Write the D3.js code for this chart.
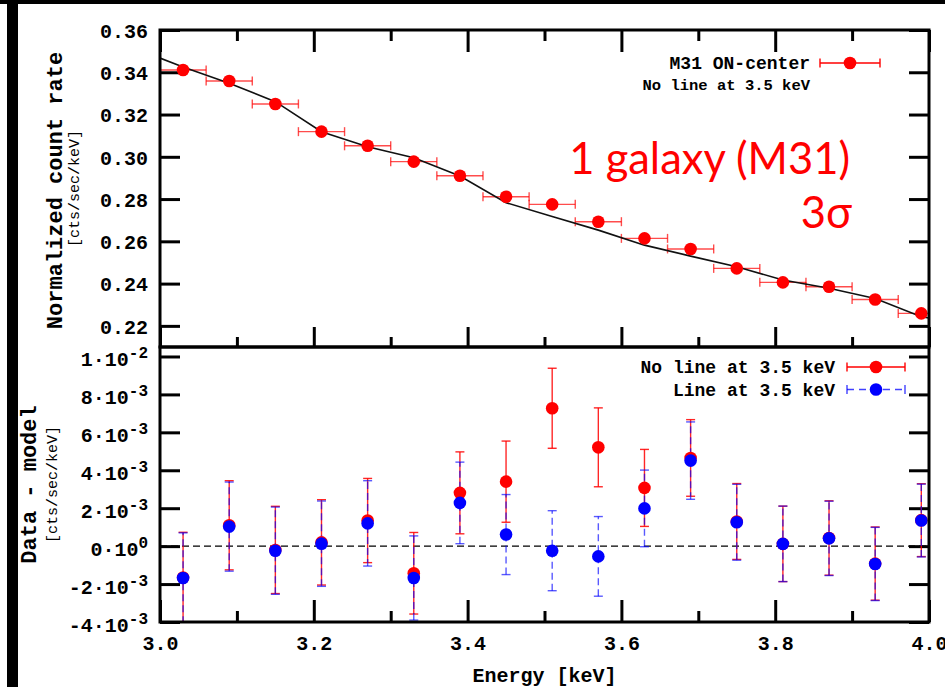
<!DOCTYPE html>
<html>
<head>
<meta charset="utf-8">
<script src="https://cdn.jsdelivr.net/npm/d3@7/dist/d3.min.js"></script>
<style>
  html, body { margin: 0; padding: 0; background: #fff; }
  svg { display: block; }
</style>
</head>
<body>
<svg id="chart" width="945" height="687"></svg>
<script>
// ---------------- DATA ----------------
const energy = [3.03, 3.09, 3.15, 3.21, 3.27, 3.33, 3.39, 3.45, 3.51, 3.57, 3.63, 3.69, 3.75, 3.81, 3.87, 3.93, 3.99];
const binHalfWidth = 0.03;
const rate = [0.3411, 0.3359, 0.3250, 0.3119, 0.3052, 0.2977, 0.2910, 0.2811, 0.2775, 0.2693, 0.2614, 0.2564, 0.2472, 0.2406, 0.2385, 0.2325, 0.2259];

const modelEnergy = [3.00, 3.03, 3.09, 3.15, 3.21, 3.27, 3.33, 3.39, 3.45, 3.51, 3.57, 3.63, 3.69, 3.75, 3.81, 3.87, 3.93, 3.99, 4.00];
const modelRate = [0.3467, 0.3425, 0.3348, 0.3261, 0.3119, 0.3048, 0.2996, 0.2909, 0.2783, 0.2717, 0.2653, 0.2582, 0.2530, 0.2480, 0.2417, 0.2378, 0.2330, 0.2243, 0.2237];

// residuals (cts/sec/keV)
const residNoLine = [-1.65e-3, 1.10e-3, -0.20e-3, 0.20e-3, 1.35e-3, -1.43e-3, 2.81e-3, 3.40e-3, 7.27e-3, 5.21e-3, 3.07e-3, 4.65e-3, 1.30e-3, 0.12e-3, 0.43e-3, -0.92e-3, 1.37e-3];
const errNoLine   = [2.38e-3, 2.35e-3, 2.30e-3, 2.25e-3, 2.22e-3, 2.15e-3, 2.16e-3, 2.14e-3, 2.11e-3, 2.08e-3, 2.03e-3, 2.02e-3, 2.00e-3, 1.99e-3, 1.96e-3, 1.93e-3, 1.92e-3];
const residLine   = [-1.68e-3, 1.03e-3, -0.24e-3, 0.13e-3, 1.20e-3, -1.68e-3, 2.28e-3, 0.61e-3, -0.24e-3, -0.54e-3, 1.99e-3, 4.51e-3, 1.26e-3, 0.12e-3, 0.41e-3, -0.94e-3, 1.35e-3];
const errLine     = [2.38e-3, 2.35e-3, 2.30e-3, 2.25e-3, 2.25e-3, 2.22e-3, 2.15e-3, 2.11e-3, 2.11e-3, 2.10e-3, 2.02e-3, 2.04e-3, 2.00e-3, 1.99e-3, 1.96e-3, 1.93e-3, 1.92e-3];

// ticks
const xMajorTicks = [3.0, 3.2, 3.4, 3.6, 3.8, 4.0];
const xMinorTicks = [3.1, 3.3, 3.5, 3.7, 3.9];
const xTickLabels = ["3.0", "3.2", "3.4", "3.6", "3.8", "4.0"];
const topYTicks = [0.22, 0.24, 0.26, 0.28, 0.30, 0.32, 0.34, 0.36];
const topYTickLabels = ["0.22", "0.24", "0.26", "0.28", "0.30", "0.32", "0.34", "0.36"];
const botYTicks = [-4e-3, -2e-3, 0, 2e-3, 4e-3, 6e-3, 8e-3, 1e-2];
const botYMantissa = ["-4", "-2", "0", "2", "4", "6", "8", "1"];
const botYExponent = ["-3", "-3", "0", "-3", "-3", "-3", "-3", "-2"];

// ---------------- LAYOUT ----------------
const L = 160, R = 929, T1 = 30, B1 = 347, T2 = 347, B2 = 622;
const mono = "'Liberation Mono', 'DejaVu Sans Mono', monospace";
const RED = "#ff0000", BLUE = "#0000ff";

const svg = d3.select("#chart");

// image border decorations
svg.append("rect").attr("x", 0).attr("y", 0).attr("width", 945).attr("height", 4).attr("fill", "#000");
svg.append("rect").attr("x", 7).attr("y", 0).attr("width", 11).attr("height", 687).attr("fill", "#000");

const x = d3.scaleLinear().domain([3.0, 4.0]).range([L, R]);
const yTop = d3.scaleLinear().domain([0.21, 0.36]).range([B1, T1]);
const yBot = d3.scaleLinear().domain([-0.004, 0.0105]).range([B2, T2]);

const defs = svg.append("defs");
defs.append("clipPath").attr("id", "clipTop").append("rect")
  .attr("x", L).attr("y", T1).attr("width", R - L).attr("height", B1 - T1);
defs.append("clipPath").attr("id", "clipBot").append("rect")
  .attr("x", L).attr("y", T2).attr("width", R - L).attr("height", B2 - T2);

function styleAxis(g) {
  g.select(".domain").remove();
  g.selectAll(".tick line").attr("stroke", "#000").attr("stroke-width", 3);
  g.selectAll(".tick text").attr("font-family", mono).attr("font-weight", "bold")
    .attr("font-size", 20).attr("fill", "#000");
}

// ---------- TOP PANEL ----------
const topG = svg.append("g");

topG.append("g").attr("transform", `translate(0,${T1})`)
  .call(d3.axisTop(x).tickValues(xMajorTicks).tickSize(-22).tickFormat("")).call(styleAxis);
topG.append("g").attr("transform", `translate(0,${T1})`)
  .call(d3.axisTop(x).tickValues(xMinorTicks).tickSize(-11).tickFormat("")).call(styleAxis);
topG.append("g").attr("transform", `translate(0,${B1})`)
  .call(d3.axisBottom(x).tickValues(xMajorTicks).tickSize(-20).tickFormat("")).call(styleAxis);
topG.append("g").attr("transform", `translate(0,${B1})`)
  .call(d3.axisBottom(x).tickValues(xMinorTicks).tickSize(-10).tickFormat("")).call(styleAxis);
const topYAxis = topG.append("g").attr("transform", `translate(${L},0)`)
  .call(d3.axisLeft(yTop).tickValues(topYTicks).tickSize(-20).tickPadding(12)
    .tickFormat((d, i) => topYTickLabels[i])).call(styleAxis);
topYAxis.selectAll(".tick text").attr("dy", "0.36em");
topG.append("g").attr("transform", `translate(${R},0)`)
  .call(d3.axisRight(yTop).tickValues(topYTicks).tickSize(-20).tickFormat("")).call(styleAxis);

const topData = energy.map((e, i) => ({ e, r: rate[i] }));
const topPlot = topG.append("g").attr("clip-path", "url(#clipTop)");

const eb = topPlot.append("g").attr("stroke", RED).attr("stroke-opacity", 0.7).attr("stroke-width", 1.4);
eb.selectAll("line.h").data(topData).join("line").attr("class", "h")
  .attr("x1", d => x(d.e - binHalfWidth)).attr("x2", d => x(d.e + binHalfWidth))
  .attr("y1", d => yTop(d.r)).attr("y2", d => yTop(d.r));
eb.selectAll("line.cl").data(topData).join("line").attr("class", "cl")
  .attr("x1", d => x(d.e - binHalfWidth)).attr("x2", d => x(d.e - binHalfWidth))
  .attr("y1", d => yTop(d.r) - 4.5).attr("y2", d => yTop(d.r) + 4.5);
eb.selectAll("line.cr").data(topData).join("line").attr("class", "cr")
  .attr("x1", d => x(d.e + binHalfWidth)).attr("x2", d => x(d.e + binHalfWidth))
  .attr("y1", d => yTop(d.r) - 4.5).attr("y2", d => yTop(d.r) + 4.5);

const modelData = modelEnergy.map((e, i) => ({ e, r: modelRate[i] }));
topPlot.append("path").datum(modelData)
  .attr("fill", "none").attr("stroke", "#111").attr("stroke-width", 1.6)
  .attr("d", d3.line().x(d => x(d.e)).y(d => yTop(d.r)));

topPlot.selectAll("circle").data(topData).join("circle")
  .attr("cx", d => x(d.e)).attr("cy", d => yTop(d.r)).attr("r", 6.3).attr("fill", RED);

topG.append("rect").attr("x", L).attr("y", T1).attr("width", R - L).attr("height", B1 - T1)
  .attr("fill", "none").attr("stroke", "#000").attr("stroke-width", 3);

topG.append("text").attr("transform", `translate(56,${(T1 + B1) / 2 + 2}) rotate(-90)`)
  .attr("text-anchor", "middle").attr("dominant-baseline", "central")
  .attr("font-family", mono).attr("font-weight", "bold").attr("font-size", 22)
  .text("Normalized count rate");
topG.append("text").attr("transform", `translate(75,${(T1 + B1) / 2}) rotate(-90)`)
  .attr("text-anchor", "middle").attr("dominant-baseline", "central")
  .attr("font-family", mono).attr("font-size", 15)
  .text("[cts/sec/keV]");

topG.append("text").attr("x", 810).attr("y", 63.5).attr("text-anchor", "end").attr("dominant-baseline", "central")
  .attr("font-family", mono).attr("font-weight", "bold").attr("font-size", 18).text("M31 ON-center");
topG.append("text").attr("x", 810).attr("y", 86).attr("text-anchor", "end").attr("dominant-baseline", "central")
  .attr("font-family", mono).attr("font-weight", "bold").attr("font-size", 15.5).text("No line at 3.5 keV");
const lg1 = topG.append("g").attr("stroke", RED).attr("stroke-width", 1.4);
lg1.append("line").attr("x1", 820).attr("x2", 880).attr("y1", 63).attr("y2", 63);
lg1.append("line").attr("x1", 820).attr("x2", 820).attr("y1", 58.5).attr("y2", 67.5);
lg1.append("line").attr("x1", 880).attr("x2", 880).attr("y1", 58.5).attr("y2", 67.5);
topG.append("circle").attr("cx", 850).attr("cy", 63).attr("r", 6.3).attr("fill", RED);

topG.append("text").attr("x", 850).attr("y", 174).attr("text-anchor", "end")
  .attr("font-family", "Lato, 'Open Sans', sans-serif").attr("font-size", 43.5).attr("fill", RED)
  .text("1 galaxy (M31)");
topG.append("text").attr("x", 852).attr("y", 228).attr("text-anchor", "end")
  .attr("font-family", "Lato, 'Open Sans', sans-serif").attr("font-size", 43.5).attr("fill", RED)
  .text("3σ");

// ---------- BOTTOM PANEL ----------
const botG = svg.append("g");
botG.append("g").attr("transform", `translate(0,${B2})`)
  .call(d3.axisBottom(x).tickValues(xMajorTicks).tickSize(-22).tickPadding(14)
    .tickFormat((d, i) => xTickLabels[i])).call(styleAxis);
botG.append("g").attr("transform", `translate(0,${B2})`)
  .call(d3.axisBottom(x).tickValues(xMinorTicks).tickSize(-11).tickFormat("")).call(styleAxis);
botG.append("g").attr("transform", `translate(${L},0)`)
  .call(d3.axisLeft(yBot).tickValues(botYTicks).tickSize(-20).tickFormat("")).call(styleAxis);
botG.append("g").attr("transform", `translate(${R},0)`)
  .call(d3.axisRight(yBot).tickValues(botYTicks).tickSize(-20).tickFormat("")).call(styleAxis);

botYTicks.forEach((v, i) => {
  const t = botG.append("text").attr("x", 148).attr("y", yBot(v) + 10).attr("text-anchor", "end")
    .attr("font-family", mono).attr("font-weight", "bold").attr("font-size", 20).attr("fill", "#000");
  t.append("tspan").text(botYMantissa[i] + "·10");
  t.append("tspan").attr("dy", -8).attr("font-size", 16).text(botYExponent[i]);
});

const botPlot = botG.append("g").attr("clip-path", "url(#clipBot)");

botPlot.append("line").attr("x1", x(3.0)).attr("x2", x(4.0)).attr("y1", yBot(0)).attr("y2", yBot(0))
  .attr("stroke", "#000").attr("stroke-width", 1.3).attr("stroke-dasharray", "7,4");

function drawResid(vals, errs, color, dash, opacity) {
  const data = energy.map((e, i) => ({ e, v: vals[i], s: errs[i] }));
  const g = botPlot.append("g").attr("stroke", color).attr("stroke-width", 1.4).attr("stroke-opacity", opacity);
  g.selectAll("line.v").data(data).join("line").attr("class", "v")
    .attr("x1", d => x(d.e)).attr("x2", d => x(d.e))
    .attr("y1", d => yBot(d.v - d.s)).attr("y2", d => yBot(d.v + d.s))
    .attr("stroke-dasharray", dash);
  g.selectAll("line.ct").data(data).join("line").attr("class", "ct")
    .attr("x1", d => x(d.e) - 4.5).attr("x2", d => x(d.e) + 4.5)
    .attr("y1", d => yBot(d.v + d.s)).attr("y2", d => yBot(d.v + d.s));
  g.selectAll("line.cb").data(data).join("line").attr("class", "cb")
    .attr("x1", d => x(d.e) - 4.5).attr("x2", d => x(d.e) + 4.5)
    .attr("y1", d => yBot(d.v - d.s)).attr("y2", d => yBot(d.v - d.s));
  return data;
}
const dNo = drawResid(residNoLine, errNoLine, RED, null, 0.85);
const dLi = drawResid(residLine, errLine, BLUE, "7,4", 0.65);
botPlot.append("g").selectAll("circle").data(dNo).join("circle")
  .attr("cx", d => x(d.e)).attr("cy", d => yBot(d.v)).attr("r", 6.3).attr("fill", RED);
botPlot.append("g").selectAll("circle").data(dLi).join("circle")
  .attr("cx", d => x(d.e)).attr("cy", d => yBot(d.v)).attr("r", 6.3).attr("fill", BLUE);

botG.append("rect").attr("x", L).attr("y", T2).attr("width", R - L).attr("height", B2 - T2)
  .attr("fill", "none").attr("stroke", "#000").attr("stroke-width", 3);

botG.append("text").attr("transform", `translate(30,${(T2 + B2) / 2}) rotate(-90)`)
  .attr("text-anchor", "middle").attr("dominant-baseline", "central")
  .attr("font-family", mono).attr("font-weight", "bold").attr("font-size", 22)
  .text("Data - model");
botG.append("text").attr("transform", `translate(53,${(T2 + B2) / 2}) rotate(-90)`)
  .attr("text-anchor", "middle").attr("dominant-baseline", "central")
  .attr("font-family", mono).attr("font-size", 15)
  .text("[cts/sec/keV]");
svg.append("text").attr("x", (L + R) / 2).attr("y", 676).attr("text-anchor", "middle").attr("dominant-baseline", "central")
  .attr("font-family", mono).attr("font-weight", "bold").attr("font-size", 20).text("Energy [keV]");

botG.append("text").attr("x", 835).attr("y", 368).attr("text-anchor", "end").attr("dominant-baseline", "central")
  .attr("font-family", mono).attr("font-weight", "bold").attr("font-size", 18).text("No line at 3.5 keV");
botG.append("text").attr("x", 835).attr("y", 390.5).attr("text-anchor", "end").attr("dominant-baseline", "central")
  .attr("font-family", mono).attr("font-weight", "bold").attr("font-size", 18).text("Line at 3.5 keV");
const lg2 = botG.append("g").attr("stroke", RED).attr("stroke-width", 1.4);
lg2.append("line").attr("x1", 847).attr("x2", 905).attr("y1", 367).attr("y2", 367);
lg2.append("line").attr("x1", 847).attr("x2", 847).attr("y1", 362.5).attr("y2", 371.5);
lg2.append("line").attr("x1", 905).attr("x2", 905).attr("y1", 362.5).attr("y2", 371.5);
botG.append("circle").attr("cx", 876).attr("cy", 367).attr("r", 6.3).attr("fill", RED);
const lg3 = botG.append("g").attr("stroke", BLUE).attr("stroke-width", 1.4).attr("stroke-opacity", 0.75);
lg3.append("line").attr("x1", 847).attr("x2", 905).attr("y1", 389.5).attr("y2", 389.5).attr("stroke-dasharray", "7,5");
lg3.append("line").attr("x1", 847).attr("x2", 847).attr("y1", 385).attr("y2", 394);
lg3.append("line").attr("x1", 905).attr("x2", 905).attr("y1", 385).attr("y2", 394);
botG.append("circle").attr("cx", 876).attr("cy", 389.5).attr("r", 6.3).attr("fill", BLUE);
</script>
</body>
</html>
